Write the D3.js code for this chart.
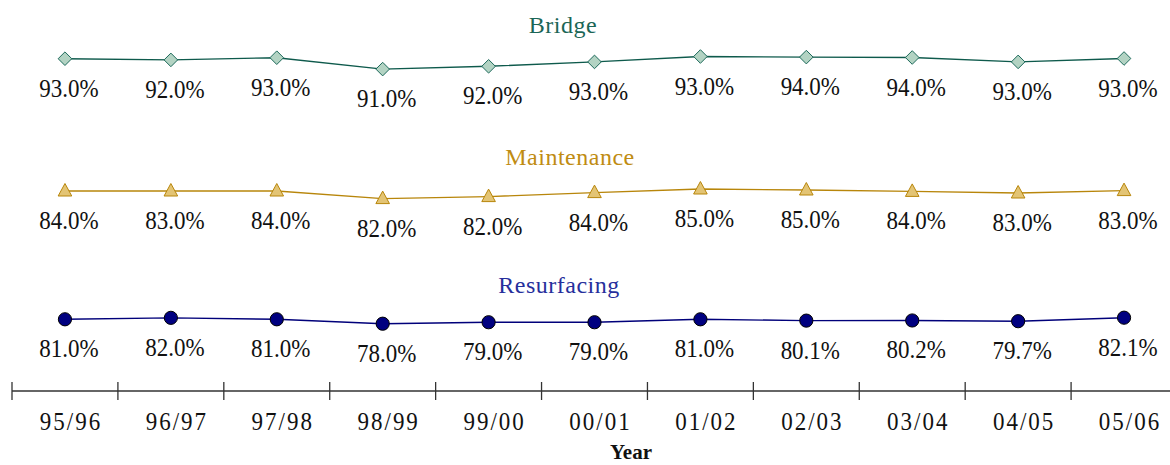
<!DOCTYPE html>
<html>
<head>
<meta charset="utf-8">
<script src="https://cdn.jsdelivr.net/npm/d3@7"></script>
<style>
  body { margin: 0; background: #fff; }
  svg text { font-family: "Liberation Serif", "DejaVu Serif", serif; }
</style>
</head>
<body>
<svg id="chart" width="1170" height="465"></svg>
<script>
// categories
var years = ["95/96", "96/97", "97/98", "98/99", "99/00", "00/01", "01/02", "02/03", "03/04", "04/05", "05/06"];

// plotted values and printed labels
var bridgeValues = [93.0, 92.7, 93.25, 90.4, 91.1, 92.2, 93.55, 93.4, 93.3, 92.2, 93.05];
var bridgeLabels = ["93.0%", "92.0%", "93.0%", "91.0%", "92.0%", "93.0%", "93.0%", "94.0%", "94.0%", "93.0%", "93.0%"];

var maintenanceValues = [84.0, 84.0, 84.0, 82.1, 82.6, 83.6, 84.5, 84.25, 83.9, 83.5, 84.1];
var maintenanceLabels = ["84.0%", "83.0%", "84.0%", "82.0%", "82.0%", "84.0%", "85.0%", "85.0%", "84.0%", "83.0%", "83.0%"];

var resurfacingValues = [81.0, 82.0, 81.0, 78.0, 79.0, 79.0, 81.0, 80.1, 80.2, 79.7, 82.1];
var resurfacingLabels = resurfacingValues.map(function(v) { return d3.format(".1f")(v) + "%"; });

var svg = d3.select("#chart");

var x = d3.scaleBand()
    .domain(years)
    .range([12, 1177]);

function cx(i) { return x(years[i]) + x.bandwidth() / 2; }

// each series sits in its own band with its own little y scale
var series = [
    { name: "Bridge", values: bridgeValues, labels: bridgeLabels, ref: 93, cy: 58.7, k: 4, tx: 563,
      line: "#0e5a4c", fill: "#b3d3c3", stroke: "#1d6a5b", title: "#1b6656", shape: "diamond" },
    { name: "Maintenance", values: maintenanceValues, labels: maintenanceLabels, ref: 84, cy: 191, k: 4, tx: 570,
      line: "#b8860b", fill: "#e3c474", stroke: "#b8860b", title: "#c08c12", shape: "triangle" },
    { name: "Resurfacing", values: resurfacingValues, labels: resurfacingLabels, ref: 81, cy: 319.3, k: 1.47, tx: 559,
      line: "#00007a", fill: "#000080", stroke: "#000000", title: "#262f9c", shape: "circle" }
];

function markerPath(shape) {
    var p = d3.path();
    if (shape == "diamond") {
        p.moveTo(0, -6.8); p.lineTo(6.8, 0); p.lineTo(0, 6.8); p.lineTo(-6.8, 0); p.closePath();
    } else if (shape == "triangle") {
        p.moveTo(0, -7.5); p.lineTo(6.8, 5); p.lineTo(-6.8, 5); p.closePath();
    } else {
        p.arc(0, 0, 6.6, 0, 2 * Math.PI);
    }
    return p.toString();
}

series.forEach(function(s) {
    var y = d3.scaleLinear()
        .domain([s.ref - 5, s.ref + 5])
        .range([s.cy + 5 * s.k, s.cy - 5 * s.k]);

    var g = svg.append("g");

    g.append("text")
        .attr("x", s.tx)
        .attr("y", s.cy - 26)
        .attr("text-anchor", "middle")
        .attr("font-size", 24)
        .attr("letter-spacing", 0.5)
        .attr("fill", s.title)
        .text(s.name);

    var line = d3.line()
        .x(function(d, i) { return cx(i); })
        .y(function(d) { return y(d); });

    g.append("path")
        .datum(s.values)
        .attr("fill", "none")
        .attr("stroke", s.line)
        .attr("stroke-width", 1.4)
        .attr("d", line);

    g.selectAll(".marker")
        .data(s.values)
        .enter().append("path")
        .attr("class", "marker")
        .attr("transform", function(d, i) { return "translate(" + cx(i) + "," + y(d) + ")"; })
        .attr("d", markerPath(s.shape))
        .attr("fill", s.fill)
        .attr("stroke", s.stroke)
        .attr("stroke-width", 1);

    g.selectAll(".label")
        .data(s.values)
        .enter().append("text")
        .attr("class", "label")
        .attr("transform", function(d, i) {
            return "translate(" + (cx(i) + 4) + "," + (y(d) + 38) + ") scale(1,1.06)";
        })
        .attr("text-anchor", "middle")
        .attr("font-size", 23)
        .attr("fill", "#111")
        .text(function(d, i) { return s.labels[i]; });
});

// category axis with ticks crossing the line
var axisG = svg.append("g")
    .attr("transform", "translate(0,391)");

axisG.append("line")
    .attr("x1", 12).attr("x2", 1170)
    .attr("stroke", "#333").attr("stroke-width", 1.3);

axisG.selectAll(".sep")
    .data(years)
    .enter().append("line")
    .attr("class", "sep")
    .attr("x1", function(d) { return x(d); })
    .attr("x2", function(d) { return x(d); })
    .attr("y1", -9).attr("y2", 9)
    .attr("stroke", "#333").attr("stroke-width", 1.3);

axisG.selectAll(".tick-label")
    .data(years)
    .enter().append("text")
    .attr("class", "tick-label")
    .attr("transform", function(d, i) { return "translate(" + (cx(i) + 6) + ",39) scale(1,1.06)"; })
    .attr("text-anchor", "middle")
    .attr("font-size", 23)
    .attr("letter-spacing", 2)
    .attr("fill", "#111")
    .text(function(d) { return d; });

svg.append("text")
    .attr("x", 631)
    .attr("y", 459)
    .attr("text-anchor", "middle")
    .attr("font-size", 21)
    .attr("font-weight", "bold")
    .attr("fill", "#111")
    .text("Year");
</script>
</body>
</html>
